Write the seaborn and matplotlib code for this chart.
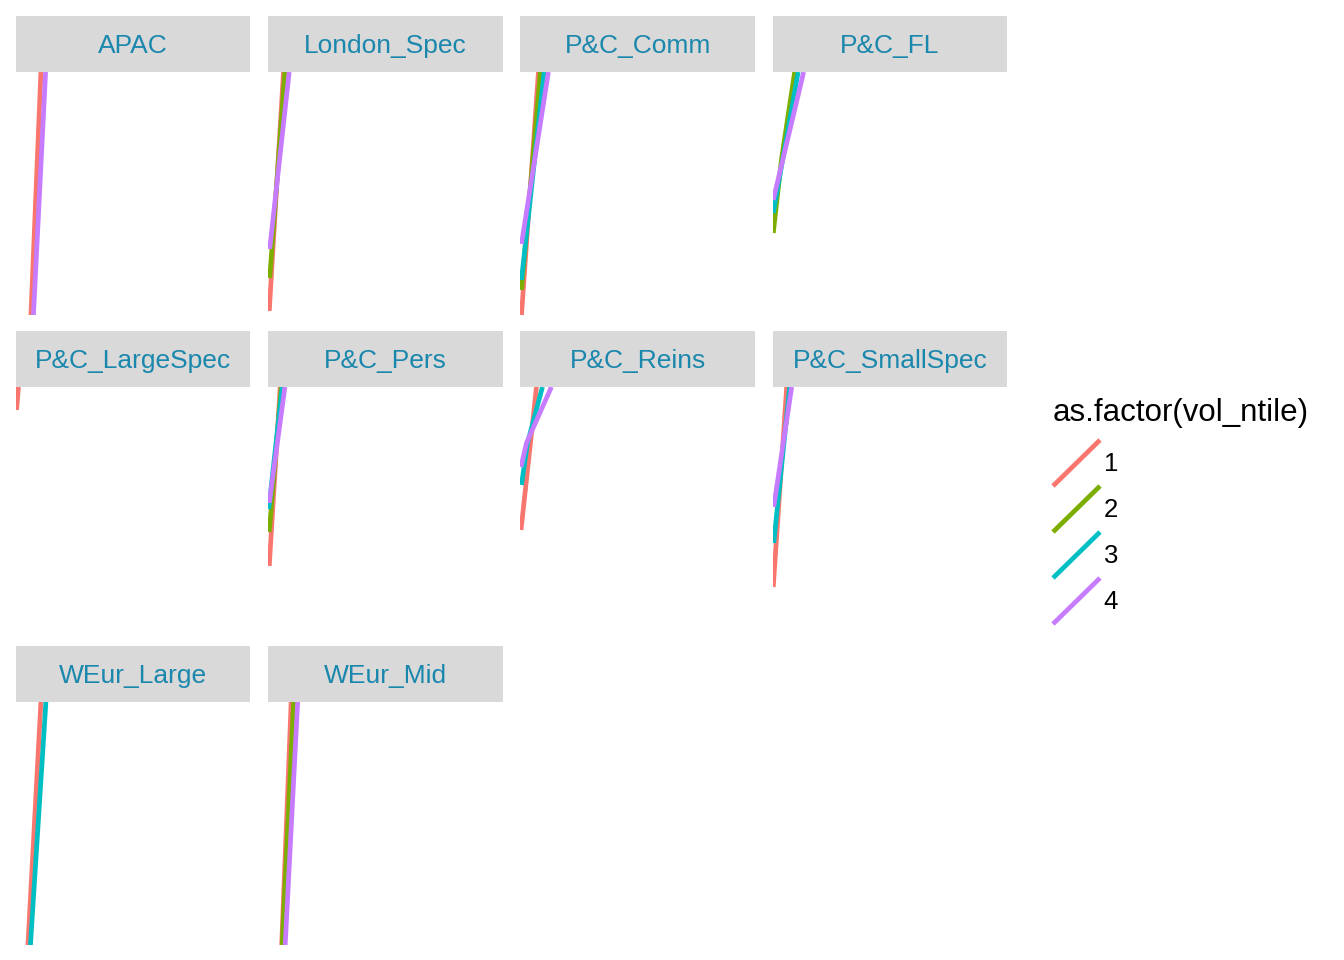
import numpy as np
import pandas as pd
import seaborn as sns
import matplotlib.pyplot as plt
from matplotlib.lines import Line2D
from matplotlib.patches import Rectangle
from matplotlib.legend_handler import HandlerBase

segments = ['APAC', 'London_Spec', 'P&C_Comm', 'P&C_FL', 'P&C_LargeSpec',
            'P&C_Pers', 'P&C_Reins', 'P&C_SmallSpec', 'WEur_Large', 'WEur_Mid']
ntiles = [1, 2, 3, 4]
colors = ['#F8766D', '#7CAE00', '#00BFC4', '#C77CFF']

# one row per point: segment, ntile, x, y
seg = (['APAC'] * 4 + ['London_Spec'] * 6 + ['P&C_Comm'] * 8 + ['P&C_FL'] * 7
       + ['P&C_LargeSpec'] * 2 + ['P&C_Pers'] * 8 + ['P&C_Reins'] * 9
       + ['P&C_SmallSpec'] * 6 + ['WEur_Large'] * 4 + ['WEur_Mid'] * 6)
ntile = ([1, 1, 4, 4]
         + [1, 1, 2, 2, 4, 4]
         + [1, 1, 2, 2, 3, 3, 4, 4]
         + [2, 2, 2, 3, 3, 4, 4]
         + [1, 1]
         + [1, 1, 2, 2, 3, 3, 4, 4]
         + [1, 1, 1, 3, 3, 3, 4, 4, 4]
         + [1, 1, 3, 3, 4, 4]
         + [1, 1, 3, 3]
         + [1, 1, 2, 2, 4, 4])
xv = ([15, 25, 17.5, 29.7]
      + [1, 15.3, 1.5, 16.7, 1.5, 21]
      + [1, 18, 1, 20, 1, 23.7, 1, 28]
      + [0.5, 8.7, 22, 0.5, 25.5, 0.5, 31]
      + [0.5, 2.5]
      + [1, 12, 1, 13, 0.5, 14, 1, 16.7]
      + [0.5, 10, 16, 1, 7, 22, 0.5, 6, 31]
      + [0.5, 14, 1, 17, 1, 19]
      + [12, 25, 14.5, 30]
      + [13.5, 23, 14, 25.5, 17, 29.5])
yv = ([1, 244, 1, 244]
      + [5, 244, 38, 244, 67, 244]
      + [1, 244, 26, 244, 36, 244, 72, 244]
      + [83, 156, 244, 103, 244, 116, 244]
      + [221, 244]
      + [65, 244, 99, 244, 122, 244, 128, 244]
      + [101, 188, 244, 146, 188, 244, 164, 188, 244]
      + [44, 244, 88, 244, 124, 244]
      + [1, 244, 1, 244]
      + [1, 244, 1, 244, 1, 244])

df = pd.DataFrame({'segment': seg, 'vol_ntile': ntile, 'x': xv, 'y': yv})

sns.set_style('white')
plt.rcParams['font.family'] = ['Liberation Sans', 'DejaVu Sans']
plt.rcParams['text.color'] = 'black'

g = sns.FacetGrid(df, col='segment', col_order=segments, col_wrap=4,
                  hue='vol_ntile', hue_order=ntiles, palette=colors,
                  height=2.44, aspect=235 / 244, despine=False)
g.map(plt.plot, 'x', 'y', lw=3.4, solid_capstyle='butt')
g.set(xlim=(0, 235), ylim=(0, 244))
g.set_titles(template='')

fig = g.figure
fig.set_size_inches(13.44, 9.6)
fig.subplots_adjust(left=16 / 1344, right=1007 / 1344, top=1 - 72 / 960,
                    bottom=1 - 946 / 960, wspace=0.0768, hspace=0.291)

strip_h = 56 / 244
for ax, name in zip(g.axes.flat, segments):
    ax.set_axis_off()
    ax.add_patch(Rectangle((0, 1), 1, strip_h, transform=ax.transAxes,
                           facecolor='#D9D9D9', edgecolor='none', clip_on=False))
    ax.text(0.5, 1 + 26 / 244, name, transform=ax.transAxes, ha='center',
            va='center', fontsize=19, color='#1A87AD')


class DiagHandler(HandlerBase):
    def create_artists(self, legend, orig, xdescent, ydescent, width, height,
                       fontsize, trans):
        ln = Line2D([-xdescent, -xdescent + width], [-ydescent, -ydescent + height],
                    color=orig.get_color(), lw=orig.get_linewidth(),
                    solid_capstyle='butt')
        ln.set_transform(trans)
        return [ln]


handles = [Line2D([], [], color=c, lw=3.4) for c in colors]
fig.text(1053 / 1344, 1 - 421 / 960, 'as.factor(vol_ntile)', fontsize=22.5,
         ha='left', va='baseline', color='black')
fs = 18.5
hl = 47 / (fs * 100 / 72)
hh = (46 / (fs * 100 / 72) - 0.245) / 0.65
fig.legend(handles, [str(n) for n in ntiles], handler_map={Line2D: DiagHandler()},
           loc='upper left', bbox_to_anchor=(1053 / 1344, 1 - 440 / 960),
           frameon=False, fontsize=fs, handlelength=hl, handleheight=hh,
           labelspacing=0, handletextpad=0.15, borderpad=0, borderaxespad=0,
           labelcolor='black')

fig.savefig('out.png', dpi=100)
